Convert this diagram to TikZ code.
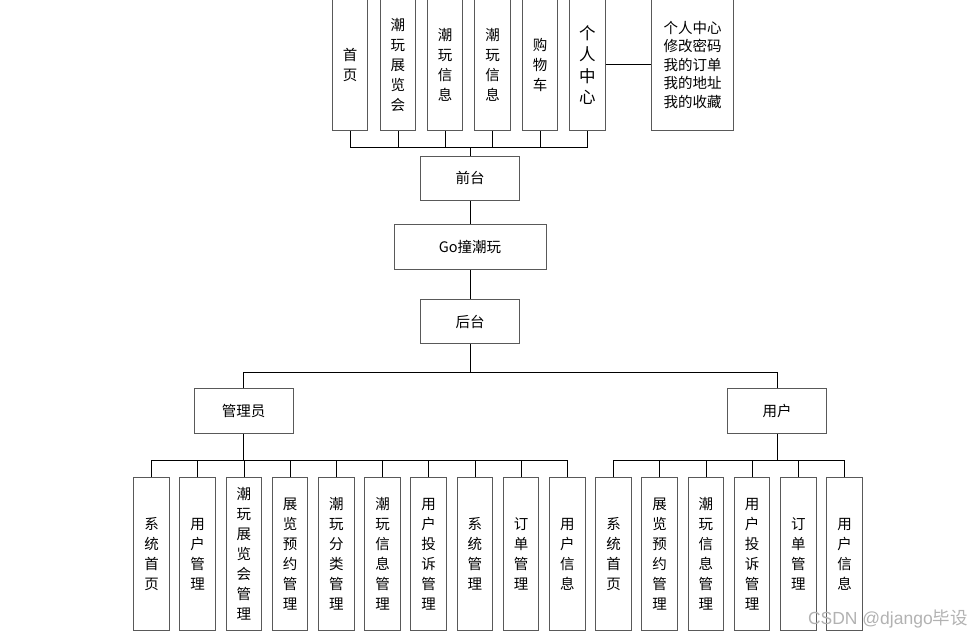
\documentclass[tikz,border=0pt]{standalone}
\usepackage{fontspec}
\setmainfont{Noto Sans CJK SC}
\newfontfamily\wmfont{Liberation Sans}
\tikzset{
  vbox/.style={draw=black!65,line width=1pt,inner sep=0pt,minimum width=35.5pt,align=center,font=\fontsize{14.5}{20}\selectfont},
  topbox/.style={vbox,minimum height=131.7pt},
  subbox/.style={vbox,minimum height=153.4pt},
  hbox/.style={draw=black!65,line width=1pt,inner sep=0pt,minimum width=98.6pt,minimum height=44.4pt,font=\fontsize{14.5}{18}\selectfont},
  link/.style={draw=black,line width=0.8pt}
}
\begin{document}
\begin{tikzpicture}[x=1pt,y=-1pt]
  \useasboundingbox (0,0) rectangle (972,637);
  \clip (0,0) rectangle (972,637);
  \node[topbox] at (350.2,64.85) (f1) {首\\页};
  \node[topbox] at (397.9,64.85) (f2) {潮\\玩\\展\\览\\会};
  \node[topbox] at (445,64.85) (f3) {潮\\玩\\信\\息};
  \node[topbox] at (492.5,64.85) (f4) {潮\\玩\\信\\息};
  \node[topbox] at (540,64.85) (f5) {购\\物\\车};
  \node[topbox,font=\fontsize{16.5}{21.5}\selectfont] at (587.3,64.85) (f6) {个\\人\\中\\心};
  \node[topbox,minimum width=81.6pt,font=\fontsize{14.5}{18.5}\selectfont] at (692.5,64.85) (f6box) {个人中心\\修改密码\\我的订单\\我的地址\\我的收藏};
  \draw[link] (f6.east) -- (f6box.west);
  \node[hbox] at (470,178.35) (qt) {前台};
  \node[hbox,minimum width=152pt] at (470,247.15) (go) {Go撞潮玩};
  \node[hbox] at (470,321.5) (ht) {后台};
  \coordinate (fbar) at (470,147.7);
  \draw[link] (f1.south) |- (fbar);
  \draw[link] (f2.south) |- (fbar);
  \draw[link] (f3.south) |- (fbar);
  \draw[link] (f4.south) |- (fbar);
  \draw[link] (f5.south) |- (fbar);
  \draw[link] (f6.south) |- (fbar);
  \draw[link] (fbar) -- (qt.north);
  \draw[link] (qt.south) -- (go.north);
  \draw[link] (go.south) -- (ht.north);
  \node[hbox,minimum width=99.3pt] at (243.7,411.15) (gly) {管理员};
  \node[hbox,minimum width=99pt] at (777.2,411.15) (yh) {用户};
  \coordinate (bbar) at (470,372.3);
  \draw[link] (ht.south) -- (bbar);
  \draw[link] (gly.north) |- (bbar);
  \draw[link] (yh.north) |- (bbar);
  \node[subbox] at (151.5,554) (a1) {系\\统\\首\\页};
  \node[subbox] at (197.7,554) (a2) {用\\户\\管\\理};
  \node[subbox] at (243.9,554) (a3) {潮\\玩\\展\\览\\会\\管\\理};
  \node[subbox] at (290.1,554) (a4) {展\\览\\预\\约\\管\\理};
  \node[subbox] at (336.3,554) (a5) {潮\\玩\\分\\类\\管\\理};
  \node[subbox] at (382.5,554) (a6) {潮\\玩\\信\\息\\管\\理};
  \node[subbox] at (428.7,554) (a7) {用\\户\\投\\诉\\管\\理};
  \node[subbox] at (474.9,554) (a8) {系\\统\\管\\理};
  \node[subbox] at (521.1,554) (a9) {订\\单\\管\\理};
  \node[subbox] at (567.3,554) (a10) {用\\户\\信\\息};
  \node[subbox] at (613.5,554) (u1) {系\\统\\首\\页};
  \node[subbox] at (659.7,554) (u2) {展\\览\\预\\约\\管\\理};
  \node[subbox] at (705.9,554) (u3) {潮\\玩\\信\\息\\管\\理};
  \node[subbox] at (752.1,554) (u4) {用\\户\\投\\诉\\管\\理};
  \node[subbox] at (798.3,554) (u5) {订\\单\\管\\理};
  \node[subbox] at (844.5,554) (u6) {用\\户\\信\\息};
  \coordinate (abar) at (243.7,460.3);
  \coordinate (ubar) at (777.2,460.3);
  \draw[link,line width=1.4pt] (gly.south) -- (abar);
  \draw[link,line width=1.4pt] (yh.south) -- (ubar);
  \draw[link] (a1.north) |- (abar);
  \draw[link] (a2.north) |- (abar);
  \draw[link] (a3.north) |- (abar);
  \draw[link] (a4.north) |- (abar);
  \draw[link] (a5.north) |- (abar);
  \draw[link] (a6.north) |- (abar);
  \draw[link] (a7.north) |- (abar);
  \draw[link] (a8.north) |- (abar);
  \draw[link] (a9.north) |- (abar);
  \draw[link] (a10.north) |- (abar);
  \draw[link] (u1.north) |- (ubar);
  \draw[link] (u2.north) |- (ubar);
  \draw[link] (u3.north) |- (ubar);
  \draw[link] (u4.north) |- (ubar);
  \draw[link] (u5.north) |- (ubar);
  \draw[link] (u6.north) |- (ubar);
  \node[text=black!30,anchor=east,inner sep=0pt,font=\fontsize{17.5}{20}\selectfont] at (968,619) (wm) {{\wmfont CSDN @django}毕设};
\end{tikzpicture}
\end{document}
